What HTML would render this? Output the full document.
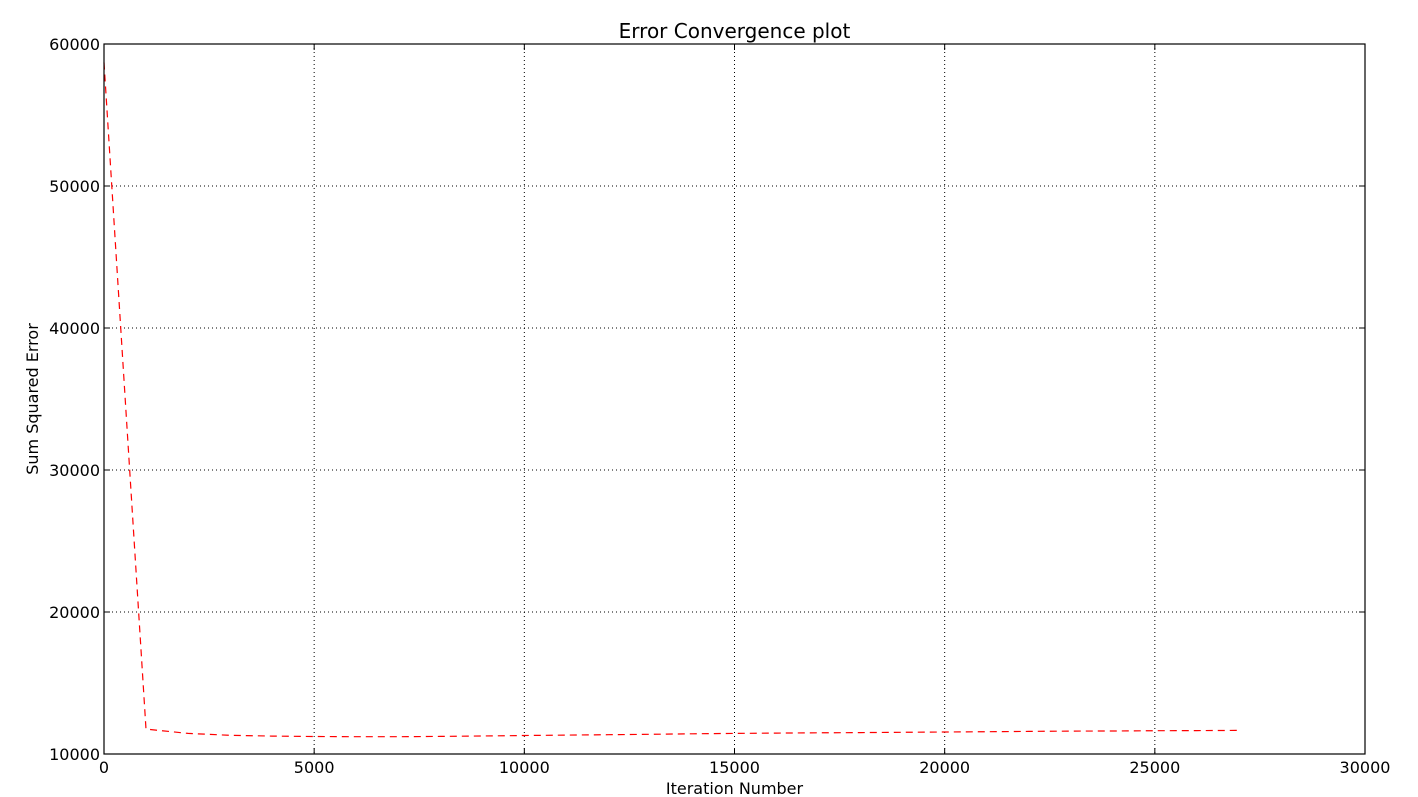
<!DOCTYPE html>
<html><head><meta charset="utf-8">
<style>
html,body{margin:0;padding:0;background:#fff;}
svg{display:block;font-family:"DejaVu Sans","Liberation Sans",sans-serif;}
</style></head>
<body>
<svg id="chart" width="1418" height="797"></svg>
<script>
const iterations = [0, 1000, 2000, 3000, 4000, 5000, 6000, 7000, 8000, 9000, 10000, 11000, 12000, 13000, 14000, 15000, 16000, 17000, 18000, 19000, 20000, 21000, 22000, 23000, 24000, 25000, 26000, 27000];
const errors = [58700, 11750, 11450, 11320, 11260, 11230, 11220, 11220, 11240, 11270, 11300, 11330, 11360, 11390, 11420, 11450, 11470, 11490, 11510, 11530, 11550, 11570, 11590, 11610, 11620, 11640, 11650, 11660];
const xTicks = [0, 5000, 10000, 15000, 20000, 25000, 30000];
const yTicks = [10000, 20000, 30000, 40000, 50000, 60000];

const NS = "http://www.w3.org/2000/svg";
const svg = document.getElementById("chart");
const L = 104, R = 1365, T = 44, B = 754;
const xMin = 0, xMax = 30000, yMin = 10000, yMax = 60000;
const xs = v => L + (v - xMin) / (xMax - xMin) * (R - L);
const ys = v => B - (v - yMin) / (yMax - yMin) * (B - T);
function mk(tag, attrs) {
  const e = document.createElementNS(NS, tag);
  for (const k in attrs) e.setAttribute(k, attrs[k]);
  svg.appendChild(e);
  return e;
}
xTicks.forEach(v => {
  const g = mk("line", {x1: xs(v), x2: xs(v), y1: T, y2: B, stroke: "#000", "stroke-width": 1, "stroke-dasharray": "1,3"});
  
  
  const tk = mk("line", {x1: xs(v), x2: xs(v), y1: B, y2: B - 6, stroke: "#000"});
  
  
  const tk2 = mk("line", {x1: xs(v), x2: xs(v), y1: T, y2: T + 6, stroke: "#000"});
  
  
  const t = mk("text", {x: xs(v), y: B + 19, "text-anchor": "middle", "font-size": 16});
  t.textContent = v;
  
  
});
yTicks.forEach(v => {
  const g = mk("line", {x1: L, x2: R, y1: ys(v), y2: ys(v), stroke: "#000", "stroke-width": 1, "stroke-dasharray": "1,3"});
  
  
  const tk = mk("line", {x1: L, x2: L + 6, y1: ys(v), y2: ys(v), stroke: "#000"});
  
  
  const tk2 = mk("line", {x1: R, x2: R - 6, y1: ys(v), y2: ys(v), stroke: "#000"});
  
  
  const t = mk("text", {x: L - 4, y: ys(v) + 6, "text-anchor": "end", "font-size": 16});
  t.textContent = v;
  
  
});
const pts = iterations.map((x, i) => xs(x).toFixed(1) + "," + ys(errors[i]).toFixed(1)).join(" ");
const line = mk("polyline", {points: pts, fill: "none", stroke: "#ff0000", "stroke-width": 1.2, "stroke-dasharray": "7,5"});


const fr = mk("rect", {x: L, y: T, width: R - L, height: B - T, fill: "none", stroke: "#000", "stroke-width": 1.2});


const title = mk("text", {x: (L + R) / 2, y: 38, "text-anchor": "middle", "font-size": 20});
title.textContent = "Error Convergence plot";


const xl = mk("text", {x: (L + R) / 2, y: 794, "text-anchor": "middle", "font-size": 16});
xl.textContent = "Iteration Number";


const yl = mk("text", {x: 0, y: 0, "text-anchor": "middle", "font-size": 16, transform: "translate(38," + ((T + B) / 2) + ") rotate(-90)"});
yl.textContent = "Sum Squared Error";


</script>
</body></html>
